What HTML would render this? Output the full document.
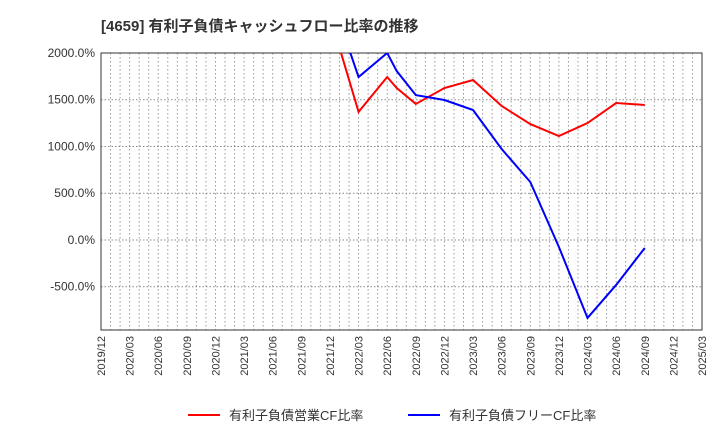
<!DOCTYPE html>
<html><head><meta charset="utf-8"><style>
body{margin:0;background:#fff}
svg text{font-family:"Liberation Sans","Noto Sans CJK JP",sans-serif;fill:#333}
</style></head><body>
<svg width="720" height="440" id="chart">
<text x="101" y="31" font-size="15" font-weight="bold">[4659]  有利子負債キャッシュフロー比率の推移</text>
<g id="grid"></g>
<g id="axes"></g>
<g id="series"></g>
<g>
<line x1="188" y1="415" x2="220" y2="415" stroke="#f00" stroke-width="2"/>
<text x="229" y="420" font-size="13">有利子負債営業CF比率</text>
<line x1="408" y1="415" x2="440" y2="415" stroke="#00f" stroke-width="2"/>
<text x="449" y="420" font-size="13">有利子負債フリーCF比率</text>
</g>
</svg>
<script>
const xTickLabels=["2019/12","2020/03","2020/06","2020/09","2020/12","2021/03","2021/06","2021/09","2021/12","2022/03","2022/06","2022/09","2022/12","2023/03","2023/06","2023/09","2023/12","2024/03","2024/06","2024/09","2024/12","2025/03"];
const yTicks=[2000,1500,1000,500,0,-500];
const redDates=["2021/12","2022/03","2022/06","2022/07","2022/09","2022/12","2023/03","2023/06","2023/09","2023/12","2024/03","2024/06","2024/09"];
const redValues=[2400,1370,1743,1625,1455,1625,1711,1433,1240,1112,1251,1465,1444];
const blueDates=["2021/12","2022/03","2022/06","2022/07","2022/09","2022/12","2023/03","2023/06","2023/09","2023/12","2024/03","2024/06","2024/09"];
const blueValues=[2640,1743,2000,1807,1550,1497,1390,973,620,-75,-834,-481,-86];
const L=101,R=702,T=53,B=330,yMax=2000,yMin=-963;
const ns="http://www.w3.org/2000/svg";
function mi(d){const[a,b]=d.split("/").map(Number);return a*12+b;}
const m0=mi("2019/12"),m1=mi("2025/03");
function X(d){return L+(mi(d)-m0)/(m1-m0)*(R-L);}
function Y(v){return T+(yMax-v)/(yMax-yMin)*(B-T);}
function mk(p,t,a){const e=document.createElementNS(ns,t);for(const k in a)e.setAttribute(k,a[k]);p.appendChild(e);return e;}
const grid=document.getElementById("grid"),axes=document.getElementById("axes"),ser=document.getElementById("series");
for(let m=m0+1;m<m1;m++){const x=L+(m-m0)/(m1-m0)*(R-L);
const g=mk(grid,"line",{x1:x,x2:x,y1:T,y2:B,stroke:"#999","stroke-dasharray":"1.5,2.5","stroke-width":1});

}
yTicks.forEach(v=>{const y=Y(v);
const g=mk(grid,"line",{x1:L,x2:R,y1:y,y2:y,stroke:"#888","stroke-dasharray":"1.5,2","stroke-width":1});


const t=mk(axes,"text",{x:L-6,y:y+4,"font-size":12,"text-anchor":"end"});t.textContent=v.toFixed(1)+"%";

});
xTickLabels.forEach(d=>{const x=X(d);
const t=mk(axes,"text",{x:0,y:0,"font-size":11,"text-anchor":"end",transform:`translate(${x+4},${B+6}) rotate(-90)`});t.textContent=d;

});
const fr=mk(axes,"rect",{x:L,y:T,width:R-L,height:B-T,fill:"none",stroke:"#333","stroke-width":1});


mk(ser,"clipPath",{id:"clip"}).appendChild(document.createElementNS(ns,"rect"));
const cr=ser.querySelector("#clip rect");cr.setAttribute("x",L);cr.setAttribute("y",T);cr.setAttribute("width",R-L);cr.setAttribute("height",B-T);
function line(ds,vs,c,n){const p=mk(ser,"polyline",{points:ds.map((d,i)=>X(d)+","+Y(vs[i])).join(" "),fill:"none",stroke:c,"stroke-width":2,"clip-path":"url(#clip)"});

}
line(redDates,redValues,"#f00","operating-cf-ratio-line");
line(blueDates,blueValues,"#00f","free-cf-ratio-line");
</script>
</body></html>
